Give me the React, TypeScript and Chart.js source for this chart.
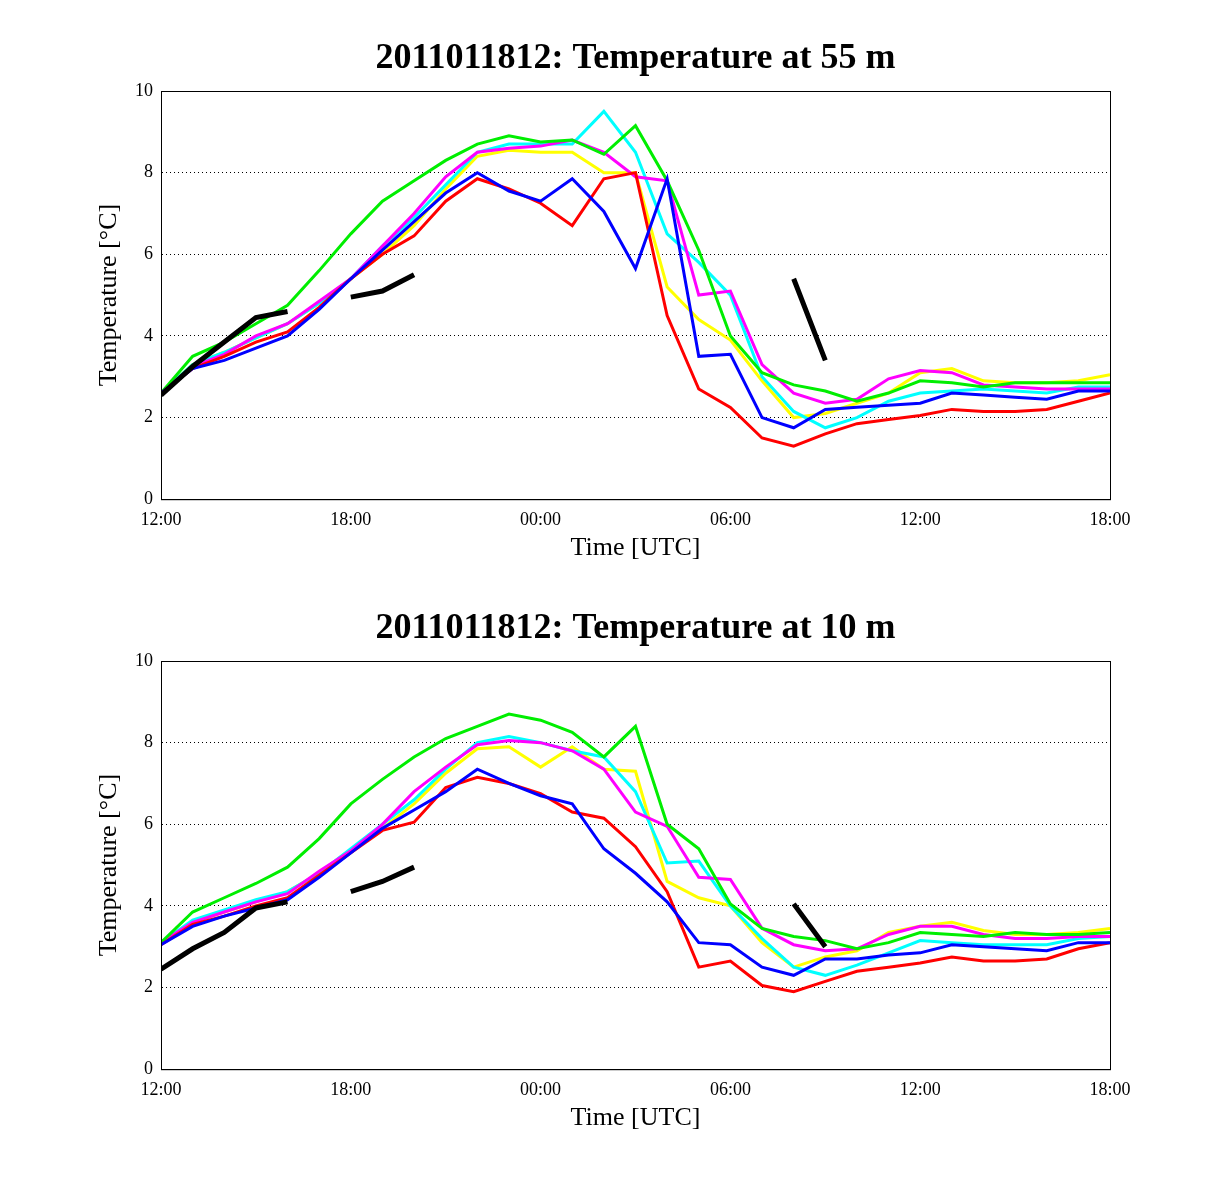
import React, { useEffect, useRef } from "react";
import { Chart, registerables } from "chart.js";
Chart.register(...registerables);

const hours = Array.from({ length: 31 }, (_, i) => i);
const tickLabels: Record<number, string> = { 0: "12:00", 6: "18:00", 12: "00:00", 18: "06:00", 24: "12:00", 30: "18:00" };
const N = null;

const top = {
  title: "2011011812: Temperature at 55 m",
  red: [2.6,3.2,3.5,3.85,4.1,4.7,5.4,6.0,6.45,7.3,7.85,7.6,7.25,6.7,7.85,8.0,4.5,2.7,2.25,1.5,1.3,1.6,1.85,1.95,2.05,2.2,2.15,2.15,2.2,2.4,2.6],
  green: [2.6,3.5,3.85,4.3,4.75,5.6,6.5,7.3,7.8,8.3,8.7,8.9,8.75,8.8,8.45,9.15,7.8,6.1,4.0,3.1,2.8,2.65,2.4,2.6,2.9,2.85,2.75,2.85,2.85,2.85,2.85],
  cyan: [2.6,3.3,3.6,3.95,4.3,4.8,5.4,6.2,6.9,7.7,8.5,8.7,8.7,8.7,9.5,8.5,6.5,5.8,5.0,3.0,2.15,1.75,2.0,2.4,2.6,2.65,2.7,2.65,2.6,2.75,2.75],
  yellow: [2.6,3.3,3.6,3.95,4.3,4.8,5.4,6.0,6.7,7.6,8.4,8.55,8.5,8.5,8.0,8.0,5.2,4.4,3.9,2.9,2.0,2.1,2.35,2.6,3.1,3.2,2.9,2.85,2.85,2.9,3.05],
  magenta: [2.6,3.25,3.55,4.0,4.3,4.85,5.4,6.2,7.0,7.9,8.5,8.6,8.65,8.8,8.5,7.9,7.8,5.0,5.1,3.3,2.6,2.35,2.45,2.95,3.15,3.1,2.8,2.75,2.7,2.7,2.7],
  blue: [2.6,3.2,3.4,3.7,4.0,4.65,5.4,6.1,6.8,7.5,8.0,7.55,7.3,7.85,7.05,5.65,7.85,3.5,3.55,2.0,1.75,2.2,2.25,2.3,2.35,2.6,2.55,2.5,2.45,2.65,2.65],
  obs: [2.55,3.25,3.85,4.45,4.6,N,4.95,5.1,5.5,N,N,N,N,N,N,N,N,N,N,N,5.4,3.4,N,N,N,N,N,N,N,N,N],
};
const bottom = {
  title: "2011011812: Temperature at 10 m",
  red: [3.05,3.55,3.75,4.0,4.2,4.75,5.3,5.85,6.05,6.9,7.15,7.0,6.75,6.3,6.15,5.45,4.35,2.5,2.65,2.05,1.9,2.15,2.4,2.5,2.6,2.75,2.65,2.65,2.7,2.95,3.1],
  green: [3.1,3.85,4.2,4.55,4.95,5.65,6.5,7.1,7.65,8.1,8.4,8.7,8.55,8.25,7.65,8.4,6.0,5.4,4.05,3.45,3.25,3.15,2.95,3.1,3.35,3.3,3.25,3.35,3.3,3.3,3.35],
  cyan: [3.1,3.65,3.9,4.15,4.35,4.8,5.4,6.0,6.6,7.35,8.0,8.15,8.0,7.8,7.65,6.8,5.05,5.1,4.0,3.2,2.5,2.3,2.55,2.85,3.15,3.1,3.05,3.05,3.05,3.2,3.25],
  yellow: [3.1,3.6,3.85,4.1,4.35,4.8,5.35,5.9,6.5,7.25,7.85,7.9,7.4,7.9,7.35,7.3,4.6,4.2,4.0,3.1,2.5,2.75,2.9,3.35,3.5,3.6,3.4,3.3,3.3,3.35,3.45],
  magenta: [3.1,3.6,3.85,4.1,4.3,4.85,5.35,6.0,6.8,7.4,7.95,8.05,8.0,7.8,7.35,6.3,5.95,4.7,4.65,3.45,3.05,2.9,2.95,3.3,3.5,3.5,3.3,3.2,3.2,3.25,3.25],
  blue: [3.05,3.5,3.75,3.95,4.15,4.7,5.3,5.9,6.35,6.8,7.35,7.0,6.7,6.5,5.4,4.8,4.1,3.1,3.05,2.5,2.3,2.7,2.7,2.8,2.85,3.05,3.0,2.95,2.9,3.1,3.1],
  obs: [2.45,2.95,3.35,3.95,4.1,N,4.35,4.6,4.95,N,N,N,N,N,N,N,N,N,N,N,4.05,3.0,N,N,N,N,N,N,N,N,N],
};

const FONT = "'Liberation Serif', 'Times New Roman', serif";

const boxPlugin = {
  id: "box",
  afterDraw(chart: any) {
    const { ctx, chartArea: a } = chart;
    ctx.save();
    ctx.strokeStyle = "#000";
    ctx.lineWidth = 1;
    ctx.strokeRect(a.left + 0.5, a.top + 0.5, a.right - a.left, a.bottom - a.top);
    ctx.fillStyle = "#000";
    ctx.font = `bold 36px ${FONT}`;
    ctx.textAlign = "center";
    ctx.textBaseline = "middle";
    ctx.fillText(chart.options.plugins.ptitle.text, (a.left + a.right) / 2, 59);
    ctx.restore();
  },
};

function Panel({ d }: { d: typeof top }) {
  const ref = useRef<HTMLCanvasElement>(null);
  useEffect(() => {
    document.body.style.margin = "0";
    const mk = (data: (number | null)[], color: string, w = 3) => ({
      data: hours.map((h, i) => ({ x: h, y: data[i] })),
      borderColor: color, borderWidth: w, pointRadius: 0, fill: false, tension: 0, spanGaps: false,
    });
    const chart = new Chart(ref.current!, {
      type: "line",
      data: {
        datasets: [
          mk(d.obs, "#000", 5),
          mk(d.blue, "#0000ff"),
          mk(d.red, "#ff0000"),
          mk(d.green, "#00ee00"),
          mk(d.magenta, "#ff00ff"),
          mk(d.cyan, "#00ffff"),
          mk(d.yellow, "#ffff00"),
        ] as any,
      },
      options: {
        animation: false, responsive: false,
        layout: { padding: { left: 94, right: 117, top: 91, bottom: 6 } },
        plugins: {
          legend: { display: false }, tooltip: { enabled: false }, title: { display: false },
          ptitle: { text: d.title },
        },
        scales: {
          x: {
            type: "linear", min: 0, max: 30,
            ticks: { stepSize: 6, color: "#000", font: { family: FONT, size: 18 }, callback: (v: any) => tickLabels[v] ?? "", maxRotation: 0, padding: 2 },
            grid: { display: false },
            border: { color: "#000" },
            title: { display: true, text: "Time [UTC]", color: "#000", font: { family: FONT, size: 26 }, padding: 0 },
          },
          y: {
            min: 0, max: 10,
            ticks: { stepSize: 2, color: "#000", font: { family: FONT, size: 18 }, padding: 8 },
            grid: { color: (c: any) => (c.tick.value === 0 || c.tick.value === 10 ? "rgba(0,0,0,0)" : "#000"), drawTicks: false },
            border: { color: "#000", dash: [1, 3] },
            title: { display: true, text: "Temperature [°C]", color: "#000", font: { family: FONT, size: 26 }, padding: 0 },
            afterFit: (s: any) => { s.width = 67; },
          },
        },
      } as any,
      plugins: [boxPlugin],
    });
    return () => chart.destroy();
  }, []);
  return <canvas ref={ref} width={1227} height={570} style={{ display: "block" }} />;
}

export default function App() {
  return (
    <div style={{ width: 1227, height: 1200, background: "#fff" }}>
      <Panel d={top} />
      <Panel d={bottom} />
    </div>
  );
}
